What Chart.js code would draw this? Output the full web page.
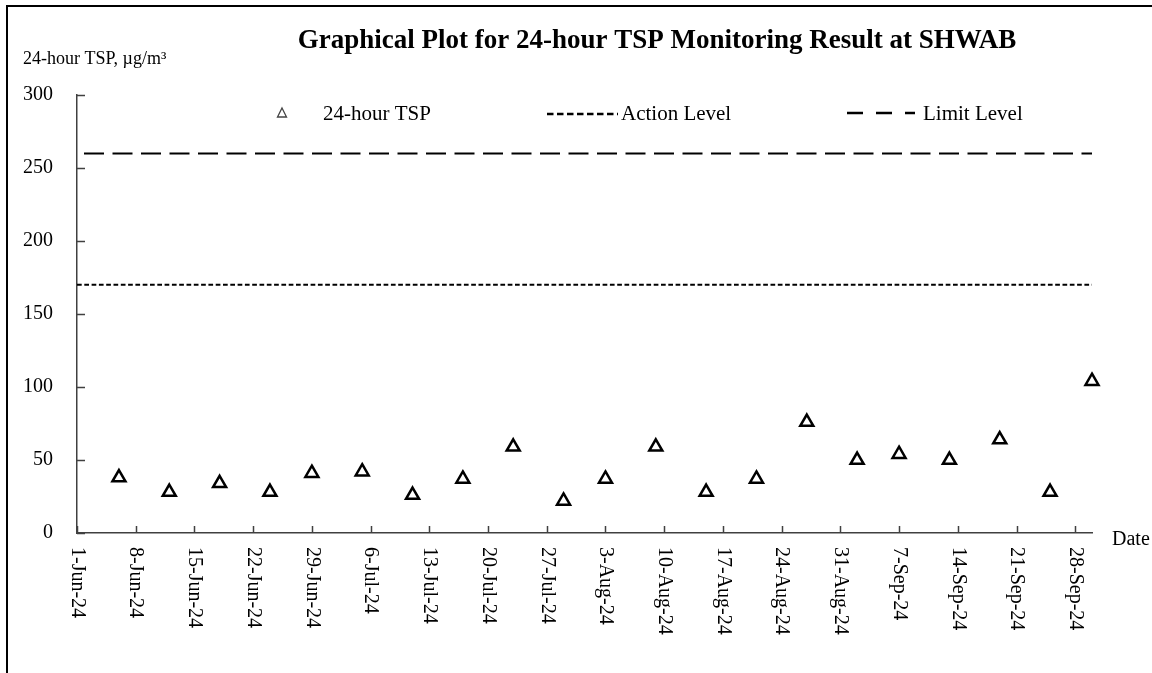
<!DOCTYPE html>
<html>
<head>
<meta charset="utf-8">
<script src="https://cdn.jsdelivr.net/npm/chart.js@4.4.1/dist/chart.umd.min.js"></script>
<style>
  body { margin: 0; background: #fff; }
  canvas { display: block; }
</style>
</head>
<body>
<canvas id="myChart" width="1152" height="673"></canvas>
<script>
var sampleDates = [
    '2024-06-06', '2024-06-12', '2024-06-18', '2024-06-24', '2024-06-29',
    '2024-07-05', '2024-07-11', '2024-07-17', '2024-07-23', '2024-07-29',
    '2024-08-03', '2024-08-09', '2024-08-15', '2024-08-21', '2024-08-27',
    '2024-09-02', '2024-09-07', '2024-09-13', '2024-09-19', '2024-09-25',
    '2024-09-30'
];
var tspValues = [38, 28, 34, 28, 41, 42, 26, 37, 59, 22, 37, 59, 28, 37, 76, 50, 54, 50, 64, 28, 104];
var actionLevel = 170;
var limitLevel = 260;
var axisStart = '2024-06-01';
var axisEnd = '2024-09-30';
var xTickLabels = [
    '1-Jun-24', '8-Jun-24', '15-Jun-24', '22-Jun-24', '29-Jun-24', '6-Jul-24',
    '13-Jul-24', '20-Jul-24', '27-Jul-24', '3-Aug-24', '10-Aug-24', '17-Aug-24',
    '24-Aug-24', '31-Aug-24', '7-Sep-24', '14-Sep-24', '21-Sep-24', '28-Sep-24'
];
var yTicks = [0, 50, 100, 150, 200, 250, 300];

function dayOf(s) {
    return (Date.parse(s) - Date.parse(axisStart)) / 86400000;
}
var endDay = dayOf(axisEnd);
var serif = "'Liberation Serif', 'Times New Roman', serif";
var axisColor = '#404040';

// title, legend, frame, rotated date labels and inward tick marks
var decor = {
    id: 'decor',
    afterDraw: function (chart) {
        var ctx = chart.ctx;
        var xs = chart.scales.x, ys = chart.scales.y;
        var area = chart.chartArea;
        ctx.save();

        ctx.strokeStyle = '#000';
        ctx.lineWidth = 2;
        ctx.beginPath();
        ctx.moveTo(7, 673);
        ctx.lineTo(7, 6);
        ctx.lineTo(1152, 6);
        ctx.stroke();

        ctx.fillStyle = '#000';
        ctx.textBaseline = 'alphabetic';
        ctx.textAlign = 'center';
        ctx.font = 'bold 27px ' + serif;
        ctx.fillText('Graphical Plot for 24-hour TSP Monitoring Result at SHWAB', 657, 48);

        ctx.textAlign = 'left';
        ctx.font = '18px ' + serif;
        ctx.fillText('24-hour TSP, \u00b5g/m\u00b3', 23, 64);

        // legend
        ctx.font = '21px ' + serif;
        ctx.strokeStyle = '#444';
        ctx.lineWidth = 1.3;
        ctx.beginPath();
        ctx.moveTo(282, 108);
        ctx.lineTo(286.5, 117);
        ctx.lineTo(277.5, 117);
        ctx.closePath();
        ctx.stroke();
        ctx.fillText('24-hour TSP', 323, 120);

        ctx.strokeStyle = '#000';
        ctx.lineWidth = 2.5;
        ctx.setLineDash([6.5, 3.5]);
        ctx.beginPath();
        ctx.moveTo(547, 114);
        ctx.lineTo(618, 114);
        ctx.stroke();
        ctx.fillText('Action Level', 621, 120);

        ctx.setLineDash([16, 13]);
        ctx.beginPath();
        ctx.moveTo(847, 113);
        ctx.lineTo(915, 113);
        ctx.stroke();
        ctx.setLineDash([]);
        ctx.fillText('Limit Level', 923, 120);

        // inward tick marks
        ctx.strokeStyle = axisColor;
        ctx.lineWidth = 1.5;
        ctx.beginPath();
        ys.ticks.forEach(function (t) {
            var y = Math.round(ys.getPixelForValue(t.value)) + 0.5;
            ctx.moveTo(area.left, y);
            ctx.lineTo(area.left + 8, y);
        });
        xs.ticks.forEach(function (t) {
            var x = Math.round(xs.getPixelForValue(t.value)) + 0.5;
            ctx.moveTo(x, area.bottom);
            ctx.lineTo(x, area.bottom - 7);
        });
        ctx.stroke();

        // rotated date labels, reading top to bottom
        ctx.font = '20px ' + serif;
        ctx.textBaseline = 'middle';
        xs.ticks.forEach(function (t, i) {
            var x = xs.getPixelForValue(t.value);
            ctx.save();
            ctx.translate(x, area.bottom + 14);
            ctx.rotate(Math.PI / 2);
            ctx.fillText(xTickLabels[i], 0, 0);
            ctx.restore();
        });

        ctx.textBaseline = 'alphabetic';
        ctx.fillText('Date', 1112, 545);
        ctx.restore();
    }
};

var ctx = document.getElementById('myChart').getContext('2d');

var myChart = new Chart(ctx, {
    type: 'scatter',
    data: {
        datasets: [{
            label: 'Limit Level',
            type: 'line',
            data: [{ x: 0, y: limitLevel }, { x: endDay, y: limitLevel }],
            borderColor: '#000',
            borderWidth: 2,
            borderDash: [20, 8.5],
            borderDashOffset: 21.5,
            pointRadius: 0,
            fill: false
        }, {
            label: 'Action Level',
            type: 'line',
            data: [{ x: 0, y: actionLevel }, { x: endDay, y: actionLevel }],
            borderColor: '#000',
            borderWidth: 2,
            borderDash: [4.7, 2.6],
            pointRadius: 0,
            fill: false
        }, {
            label: '24-hour TSP',
            data: sampleDates.map(function (d, i) {
                return { x: dayOf(d), y: tspValues[i] };
            }),
            pointStyle: 'triangle',
            pointRadius: 7.5,
            pointBorderWidth: 2.5,
            pointBorderColor: '#000',
            pointBackgroundColor: '#fff',
            clip: false
        }]
    },
    options: {
        responsive: false,
        animation: false,
        devicePixelRatio: 1,
        layout: {
            padding: { left: 17, right: 60, top: 95, bottom: 140 }
        },
        scales: {
            x: {
                type: 'linear',
                min: 0,
                max: endDay,
                afterBuildTicks: function (scale) {
                    scale.ticks = xTickLabels.map(function (l, i) {
                        return { value: i * 7 };
                    });
                },
                afterFit: function (scale) {
                    scale.height = 0;
                },
                ticks: { display: false },
                grid: { display: false, drawTicks: false },
                border: { display: true, color: axisColor, width: 1.5 }
            },
            y: {
                min: 0,
                max: 300,
                afterBuildTicks: function (scale) {
                    scale.ticks = yTicks.map(function (v) {
                        return { value: v };
                    });
                },
                afterFit: function (scale) {
                    scale.width = 60;
                },
                ticks: {
                    padding: 24,
                    color: '#000',
                    font: { family: serif, size: 20 }
                },
                grid: { display: false, drawTicks: false },
                border: { display: true, color: axisColor, width: 1.5 }
            }
        },
        plugins: {
            legend: { display: false },
            title: { display: false },
            tooltip: { enabled: false }
        }
    },
    plugins: [decor]
});
</script>
</body>
</html>
